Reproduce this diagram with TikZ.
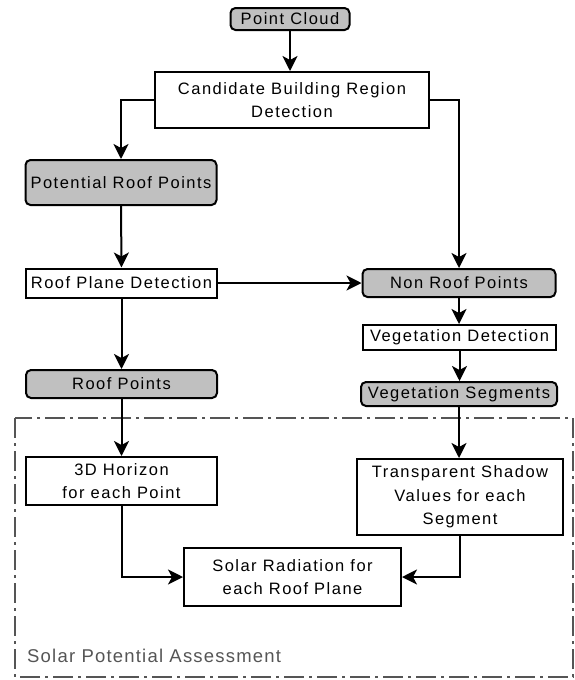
\documentclass[tikz,border=0pt]{standalone}
\usepackage{fontspec}
\setmainfont{Liberation Sans}[LetterSpace=9]
\newfontfamily\lblfont{Liberation Sans}[LetterSpace=6.5]
\usetikzlibrary{arrows.meta}
\definecolor{boxgray}{RGB}{192,192,192}
\definecolor{framegray}{RGB}{85,85,85}
\tikzset{
  base/.style={draw=black, line width=2pt, inner sep=0pt, align=center, font=\fontsize{16.5}{23.5}\selectfont, text=black},
  databox/.style={base, fill=boxgray, rounded corners=5pt},
  procbox/.style={base, fill=white},
  conn/.style={line width=2pt, -{Stealth[length=15pt,width=15pt,inset=4pt]}},
  frame/.style={draw=framegray, line width=2pt, dash pattern=on 20pt off 5pt on 3pt off 5pt},
}
\begin{document}
\begin{tikzpicture}[x=1pt,y=-1pt]
\useasboundingbox (0,0) rectangle (575,680);
\draw[frame] (15,418) rectangle (573,677);
\node[anchor=west, text=framegray, font=\lblfont\fontsize{18.5}{22}\selectfont, inner sep=0pt] (lbl) at (27,656) {Solar Potential Assessment};

\node[databox, minimum width=119pt, minimum height=22pt] (pc) at (290,19) {Point Cloud};
\node[procbox, minimum width=274pt, minimum height=56pt] (cand) at (292,100) {Candidate Building Region\\Detection};
\node[databox, minimum width=191pt, minimum height=45pt] (prp) at (121,182.5) {Potential Roof Points};
\node[procbox, minimum width=191pt, minimum height=29pt] (rpd) at (121.5,283) {Roof Plane Detection};
\node[databox, minimum width=193pt, minimum height=28pt] (nrp) at (459,283) {Non Roof Points};
\node[procbox, minimum width=193pt, minimum height=25pt] (vd) at (459.5,337.5) {Vegetation Detection};
\node[databox, minimum width=196pt, minimum height=24pt] (vs) at (459,394) {Vegetation Segments};
\node[databox, minimum width=191pt, minimum height=28pt] (rp) at (121.5,384) {Roof Points};
\node[procbox, minimum width=191pt, minimum height=48pt] (h3d) at (121.5,481) {3D Horizon\\for each Point};
\node[procbox, minimum width=206pt, minimum height=76pt] (ts) at (460,497) {Transparent Shadow\\Values for each\\Segment};
\node[procbox, minimum width=217pt, minimum height=58pt] (sr) at (292.5,577) {Solar Radiation for\\each Roof Plane};

\draw[conn] (pc.south) -- (pc.south |- cand.north);
\draw[conn] (cand.west) -| (prp.north);
\draw[conn] (cand.east) -| (nrp.north);
\draw[conn] (prp.south) -- (rpd.north);
\draw[conn] (rpd.east) -- (rpd.east -| nrp.west);
\draw[conn] (rpd.south) -- (rp.north);
\draw[conn] (nrp.south) -- (nrp.south |- vd.north);
\draw[conn] (vd.south) -- (vd.south |- vs.north);
\draw[conn] (rp.south) -- (h3d.north);
\draw[conn] (vs.south) -- (vs.south |- ts.north);
\draw[conn] (h3d.south) |- (sr.west);
\draw[conn] (ts.south) |- (sr.east);
\end{tikzpicture}
\end{document}
